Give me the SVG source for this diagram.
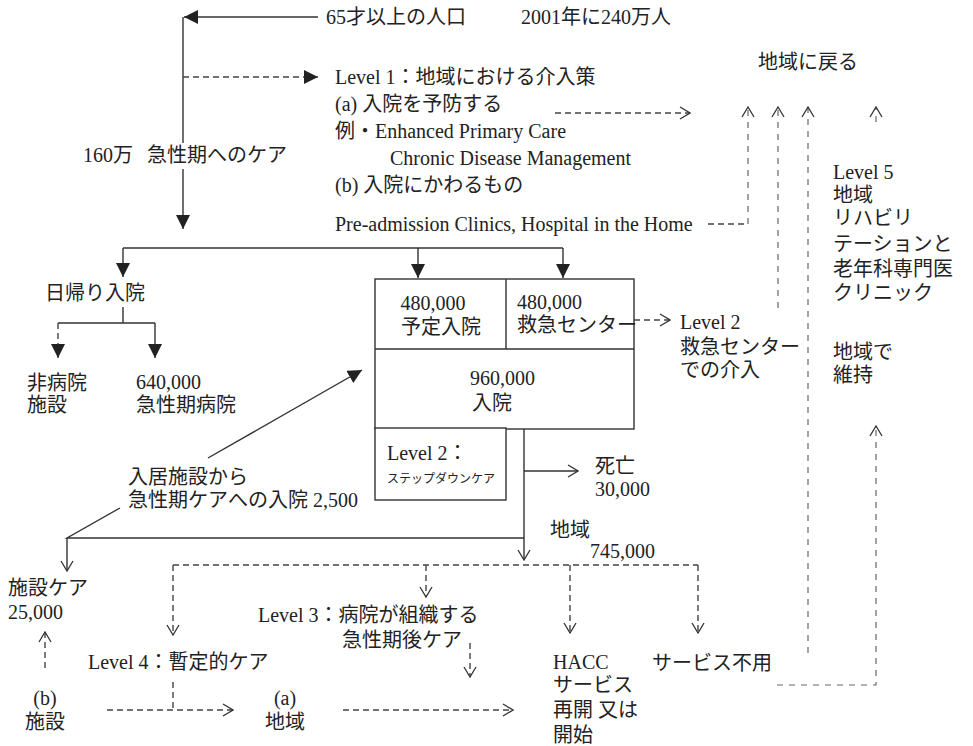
<svg xmlns="http://www.w3.org/2000/svg" width="973" height="746" viewBox="0 0 973 746">
<style>
  text { font-family: "Liberation Serif", "Noto Sans CJK JP", serif; font-size: 20px; fill: #222; }
  .sm { font-size: 12px; }
  .mid { text-anchor: middle; }
  .s { fill: none; stroke: #333; stroke-width: 1.4; }
  .d { fill: none; stroke: #444; stroke-width: 1.4; stroke-dasharray: 6 4; }
  .dl { fill: none; stroke: #666; stroke-width: 1.2; stroke-dasharray: 6 6; }
  .box { fill: #fff; stroke: #333; stroke-width: 1.4; }
</style>
<defs>
  <marker id="fa" viewBox="0 0 14 14" refX="14" refY="7" markerWidth="14" markerHeight="14" orient="auto" markerUnits="userSpaceOnUse">
    <path d="M0,0 L14,7 L0,14 z" fill="#222"/>
  </marker>
  <marker id="oa" viewBox="0 0 12 14" refX="11" refY="7" markerWidth="12" markerHeight="14" orient="auto" markerUnits="userSpaceOnUse">
    <path d="M1,1 L11,7 L1,13" fill="none" stroke="#333" stroke-width="1.3"/>
  </marker>
</defs>
<rect width="973" height="746" fill="#fff"/>

<g id="connectors">
  <path class="s" d="M318,17 H184" marker-end="url(#fa)"/>
  <path class="s" d="M183,17 V143"/>
  <path class="s" d="M183,169 V229" marker-end="url(#fa)"/>
  <path class="d" d="M183,77 H318" marker-end="url(#fa)"/>
  <path class="d" d="M555,113 H690" marker-end="url(#oa)"/>
  <path class="s" d="M123,248 H563"/>
  <path class="s" d="M123,248 V277" marker-end="url(#fa)"/>
  <path class="s" d="M418,248 V278" marker-end="url(#fa)"/>
  <path class="s" d="M563,248 V278" marker-end="url(#fa)"/>
  <path class="s" d="M123,307 V323 M58,323 H155"/>
  <path class="d" d="M58,323 V358" marker-end="url(#fa)"/>
  <path class="s" d="M155,323 V358" marker-end="url(#fa)"/>
  <path class="s" d="M208,458 L362,370" marker-end="url(#fa)"/>
  <path class="s" d="M120,508 L67,538 H524"/>
  <path class="s" d="M67,538 V571" marker-end="url(#oa)"/>
  <path class="s" d="M524,428 V560" marker-end="url(#oa)"/>
  <path class="s" d="M524,471 H578" marker-end="url(#oa)"/>
  <path class="d" d="M634,320 H670" marker-end="url(#oa)"/>
  <path class="d" d="M173,565 H698"/>
  <path class="d" d="M173,565 V635" marker-end="url(#oa)"/>
  <path class="d" d="M426,565 V597" marker-end="url(#oa)"/>
  <path class="d" d="M570,565 V633" marker-end="url(#oa)"/>
  <path class="d" d="M698,565 V633" marker-end="url(#oa)"/>
  <path class="d" d="M470,643 V677" marker-end="url(#oa)"/>
  <path class="d" d="M173,682 V710"/>
  <path class="d" d="M107,710 H233" marker-end="url(#oa)"/>
  <path class="d" d="M343,710 H513" marker-end="url(#oa)"/>
  <path class="d" d="M45,668 V632" marker-end="url(#oa)"/>
  <path class="d" d="M708,224 H748"/>
  <path class="dl" d="M748,224 V107" marker-end="url(#oa)"/>
  <path class="dl" d="M778,308 V107" marker-end="url(#oa)"/>
  <path class="dl" d="M808,653 V107" marker-end="url(#oa)"/>
  <path class="dl" d="M876,122 V107" marker-end="url(#oa)"/>
  <path class="dl" d="M777,685 H876 V426" marker-end="url(#oa)"/>
</g>

<g id="n-pop">
  <text x="326" y="24">65才以上の人口</text>
  <text x="521" y="24">2001年に240万人</text>
</g>
<g id="n-acute-care">
  <text x="83" y="162">160万</text>
  <text x="147" y="162">急性期へのケア</text>
</g>
<g id="n-level1">
  <text x="335" y="84">Level 1：地域における介入策</text>
  <text x="335" y="111">(a) 入院を予防する</text>
  <text x="335" y="138">例・Enhanced Primary Care</text>
  <text x="390" y="165">Chronic Disease Management</text>
  <text x="335" y="192">(b) 入院にかわるもの</text>
  <text x="335" y="231">Pre-admission Clinics, Hospital in the Home</text>
</g>
<g id="n-return">
  <text x="758" y="69">地域に戻る</text>
</g>
<g id="n-level5">
  <text x="833" y="179">Level 5</text>
  <text x="833" y="202">地域</text>
  <text x="833" y="225">リハビリ</text>
  <text x="833" y="251">テーションと</text>
  <text x="833" y="276">老年科専門医</text>
  <text x="833" y="300">クリニック</text>
  <text x="833" y="359">地域で</text>
  <text x="833" y="382">維持</text>
</g>
<g id="n-day">
  <text x="45" y="300">日帰り入院</text>
</g>
<g id="n-nonhosp">
  <text x="27" y="390">非病院</text>
  <text x="27" y="412">施設</text>
</g>
<g id="n-acutehosp">
  <text x="136" y="389">640,000</text>
  <text x="136" y="412">急性期病院</text>
</g>
<g id="n-admit">
  <rect class="box" x="375" y="279" width="259" height="150"/>
  <path class="s" d="M506,279 V349 M375,349 H634"/>
  <text x="433" y="310" class="mid">480,000</text>
  <text x="441" y="334" class="mid">予定入院</text>
  <text x="517" y="309">480,000</text>
  <text x="517" y="332">救急センター</text>
  <text x="470" y="385">960,000</text>
  <text x="472" y="410">入院</text>
</g>
<g id="n-stepdown">
  <rect class="box" x="375" y="428" width="131" height="72"/>
  <text x="387" y="460">Level 2：</text>
  <text x="387" y="483" class="sm">ステップダウンケア</text>
</g>
<g id="n-ed">
  <text x="680" y="329">Level 2</text>
  <text x="680" y="354">救急センター</text>
  <text x="680" y="377">での介入</text>
</g>
<g id="n-death">
  <text x="595" y="473">死亡</text>
  <text x="595" y="496">30,000</text>
</g>
<g id="n-resid">
  <text x="128" y="484">入居施設から</text>
  <text x="128" y="507">急性期ケアへの入院 2,500</text>
</g>
<g id="n-community">
  <text x="550" y="537">地域</text>
  <text x="590" y="558">745,000</text>
</g>
<g id="n-rescare">
  <text x="8" y="595">施設ケア</text>
  <text x="8" y="619">25,000</text>
</g>
<g id="n-level3">
  <text x="258" y="622">Level 3：病院が組織する</text>
  <text x="342" y="647">急性期後ケア</text>
</g>
<g id="n-level4">
  <text x="88" y="669">Level 4：暫定的ケア</text>
</g>
<g id="n-b">
  <text x="45" y="705" class="mid">(b)</text>
  <text x="45" y="729" class="mid">施設</text>
</g>
<g id="n-a">
  <text x="285" y="705" class="mid">(a)</text>
  <text x="285" y="729" class="mid">地域</text>
</g>
<g id="n-hacc">
  <text x="553" y="669">HACC</text>
  <text x="553" y="692">サービス</text>
  <text x="553" y="717">再開 又は</text>
  <text x="553" y="742">開始</text>
</g>
<g id="n-noservice">
  <text x="652" y="670">サービス不用</text>
</g>
</svg>
